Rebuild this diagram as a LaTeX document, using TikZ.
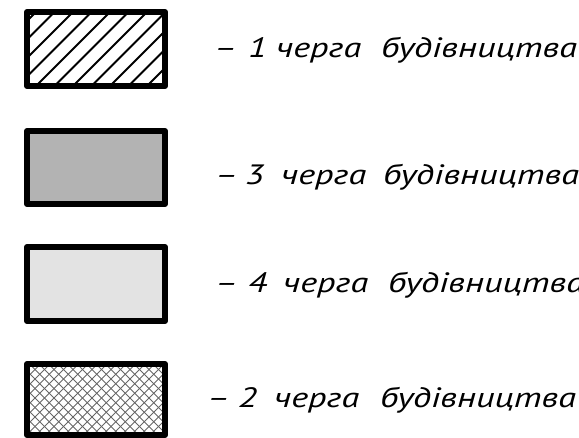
\documentclass[tikz,border=0pt]{standalone}
\usepackage{fontspec}
\setmainfont{PT Sans}
\newfontfamily\legfont{PT Sans Italic}[FakeStretch=1.3]
\newcommand\legline[4]{\makebox[#1pt][l]{–}\makebox[#2pt][l]{#4}\makebox[#3pt][l]{черга}будівництва}
\begin{document}
\begin{tikzpicture}[x=1pt,y=-1pt,
  frame/.style={line width=6pt,line join=round,draw=black},
  legtext/.style={anchor=base west,inner sep=0pt,font=\legfont\fontsize{28}{30}\selectfont}]
\useasboundingbox (0,0) rectangle (579,438);
% box 1 hatched
\begin{scope}
  \clip (27,12) rectangle (165,86);
  \foreach \c in {2.5,21,...,300} {\draw[line width=2pt] (\c,-10) -- (\c-120,110);}
\end{scope}
\node[draw=none,inner sep=0pt,minimum width=138pt,minimum height=74pt] (b1) at (96,49) {};
\draw[frame] (27,12) rectangle (165,86);
% box 2 dark grey
\node[frame,fill={rgb,255:red,179;green,179;blue,179},inner sep=0pt,minimum width=138pt,minimum height=73pt] (b2) at (96,167.5) {};
% box 3 light grey
\node[frame,fill={rgb,255:red,227;green,227;blue,227},inner sep=0pt,minimum width=138pt,minimum height=74pt] (b3) at (96,284) {};
% box 4 crosshatched
\begin{scope}
  \clip (27,364) rectangle (165,435);
  \foreach \c in {0,9.5,...,700} {
    \draw[line width=0.9pt,black!60] (\c,300) -- (\c-200,500);
    \draw[line width=0.9pt,black!60] (\c-500,300) -- (\c-300,500);
  }
\end{scope}
\node[draw=none,inner sep=0pt,minimum width=138pt,minimum height=71pt] (b4) at (96,399.5) {};
\draw[frame] (27,364) rectangle (165,435);
% texts
\node[legtext] (t1) at (214,58) {\legline{34}{28}{105}{1}};
\node[legtext] (t3) at (215,185) {\legline{30}{36}{102}{3}};
\node[legtext] (t4) at (215,293) {\legline{33}{35}{105}{4}};
\node[legtext] (t2) at (207,408) {\legline{31}{36}{106}{2}};
\end{tikzpicture}
\end{document}
